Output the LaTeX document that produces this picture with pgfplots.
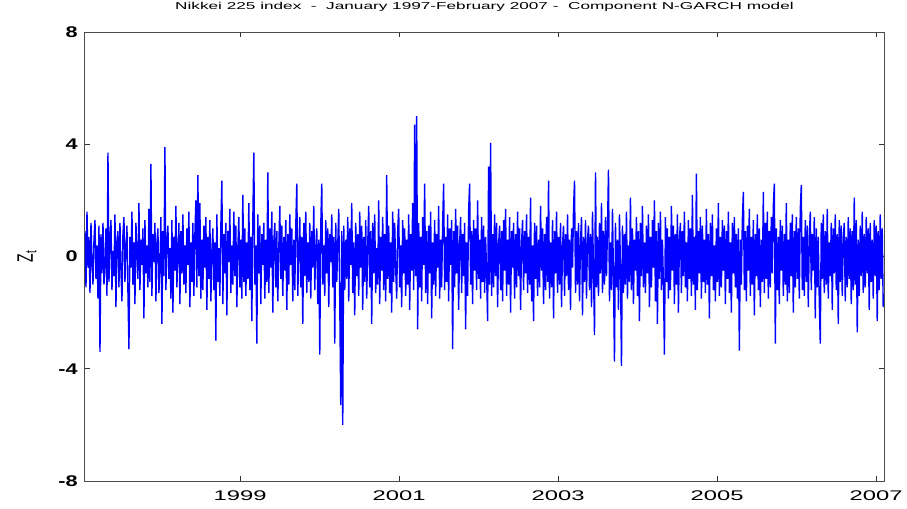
\documentclass[border=0pt]{standalone}
\usepackage{pgfplots}
\pgfplotsset{compat=1.18}
\usepackage{pgfplotstable}
\usepackage{fontspec}
\setmainfont{Liberation Sans}
% the reference is stretched sideways, so are its fonts
\newfontfamily\titlefont[FakeStretch=1.72]{Liberation Sans}
\newfontfamily\xtickfont[FakeStretch=1.7]{Liberation Sans}
\newfontfamily\ytickfont[FakeStretch=1.4]{Liberation Sans Bold}

% standardised residuals z_t (one value per ~4 trading days)
\pgfplotstableread[row sep=\\]{
z\\
0.9\\ -1.1\\ 1.6\\ -0.4\\ 0.7\\ -1.3\\ 1.2\\ -0.2\\ -1.0\\ 0.6\\ 1.3\\ -0.8\\ 0.4\\ -1.5\\ 1.1\\ -3.4\\ 0.8\\ -0.6\\ 1.2\\ -1.0\\
-0.3\\ 1.0\\ -1.4\\ 3.7\\ -0.9\\ 0.5\\ 1.3\\ -1.2\\ 0.2\\ -0.7\\ 1.5\\ -1.8\\ 0.6\\ 0.9\\ -1.1\\ 1.2\\ -0.5\\ -1.6\\ 0.8\\ 1.4\\
-0.9\\ 0.3\\ 1.1\\ -1.3\\ -3.3\\ 0.7\\ -0.4\\ 1.6\\ -1.0\\ 0.5\\ -1.7\\ 1.2\\ 0.1\\ -0.8\\ 1.9\\ -1.2\\ 0.6\\ -0.3\\ 1.0\\ -2.2\\
1.3\\ -0.6\\ 0.4\\ -1.1\\ 1.7\\ -0.9\\ 3.3\\ -1.4\\ 0.8\\ -0.2\\ 1.2\\ -1.6\\ 0.5\\ 1.0\\ -1.3\\ -0.4\\ 1.4\\ -2.4\\ 0.9\\ -0.7\\
3.9\\ -1.2\\ 0.6\\ 1.1\\ -0.8\\ 0.3\\ -1.5\\ 1.3\\ -2.0\\ 0.7\\ -0.5\\ 1.8\\ -1.1\\ 0.2\\ 1.2\\ -1.7\\ 0.9\\ -0.6\\ 1.5\\ -1.0\\
0.4\\ -1.3\\ 1.0\\ -0.3\\ 1.6\\ -1.8\\ 0.5\\ -0.9\\ 1.2\\ -1.4\\ 0.8\\ 2.0\\ -1.1\\ 2.9\\ -0.7\\ 1.9\\ -1.5\\ 0.6\\ -1.2\\ 1.1\\
-0.4\\ 1.4\\ -1.9\\ 0.7\\ -0.8\\ 1.3\\ -1.6\\ 0.2\\ 1.0\\ -1.2\\ 0.5\\ -3.0\\ 1.5\\ -0.9\\ 0.3\\ -1.4\\ 1.1\\ 2.7\\ -1.7\\ 0.8\\
-0.6\\ 1.2\\ -2.1\\ 0.9\\ -0.2\\ 1.7\\ -1.3\\ 0.4\\ -1.0\\ 1.6\\ -0.7\\ 1.1\\ -1.8\\ 0.3\\ 1.4\\ -1.1\\ 0.6\\ -1.5\\ 2.2\\ -0.9\\
1.0\\ -1.4\\ 0.5\\ -0.8\\ 1.9\\ -1.2\\ 0.7\\ -2.3\\ 1.3\\ 3.7\\ -1.0\\ 0.4\\ -3.1\\ 1.5\\ -0.6\\ 1.1\\ -1.7\\ 0.8\\ -0.3\\ 1.2\\
-1.5\\ 0.6\\ -0.9\\ 3.0\\ -1.3\\ 1.0\\ -0.4\\ 1.6\\ -2.0\\ 0.5\\ 1.2\\ -1.1\\ 0.9\\ -1.6\\ 0.3\\ 1.8\\ -0.8\\ 1.1\\ -1.4\\ 0.7\\
-0.5\\ 1.3\\ -1.9\\ 0.8\\ -1.0\\ 1.5\\ -0.3\\ 1.0\\ -1.6\\ 0.6\\ -1.2\\ 1.1\\ 2.6\\ -1.4\\ 0.2\\ 1.4\\ -1.1\\ 0.7\\ -2.4\\ 1.2\\
-0.7\\ 1.6\\ -1.3\\ 0.5\\ -0.9\\ 1.2\\ -1.5\\ 0.9\\ -0.4\\ 1.8\\ -1.2\\ 0.3\\ 1.0\\ -1.7\\ 0.6\\ -3.5\\ 1.1\\ 2.6\\ -1.0\\ 0.4\\
-1.4\\ 1.3\\ -0.6\\ 1.0\\ -1.8\\ 0.8\\ -0.2\\ 1.5\\ -1.1\\ 0.7\\ -3.1\\ 1.2\\ -0.9\\ 0.4\\ 1.7\\ -1.5\\ -5.3\\ 0.9\\ -6.0\\ 1.1\\
-1.2\\ 0.6\\ -0.8\\ 1.4\\ -1.6\\ 1.0\\ -0.3\\ 1.9\\ -1.3\\ 0.5\\ -2.1\\ 1.2\\ -0.7\\ 0.8\\ -1.4\\ 1.6\\ -0.4\\ 1.1\\ -1.9\\ 0.7\\
-0.9\\ 1.3\\ -1.5\\ 0.4\\ 1.8\\ -1.1\\ 0.9\\ -2.4\\ 1.2\\ -0.6\\ 1.5\\ -1.3\\ 0.3\\ -1.0\\ 2.0\\ -1.7\\ 0.7\\ -0.5\\ 1.4\\ -1.2\\
0.8\\ -1.6\\ 2.9\\ -0.8\\ 1.1\\ -1.3\\ 0.5\\ -2.0\\ 1.6\\ -0.9\\ 1.2\\ -0.4\\ -1.5\\ 0.9\\ 1.7\\ -1.1\\ 0.4\\ -1.8\\ 1.3\\ -0.6\\
1.0\\ -1.4\\ 0.6\\ -1.0\\ 1.5\\ -1.9\\ 0.8\\ -0.5\\ 1.9\\ -1.2\\ 4.7\\ -0.7\\ 5.0\\ -2.6\\ 1.2\\ -1.1\\ 0.7\\ -1.6\\ 1.4\\ -0.3\\
2.6\\ -1.3\\ 0.9\\ -1.7\\ 1.1\\ -0.6\\ 1.6\\ -2.2\\ 0.5\\ -1.0\\ 1.3\\ -1.4\\ 0.8\\ -0.4\\ 1.8\\ -1.5\\ 0.6\\ -1.1\\ 1.2\\ 2.6\\
-1.2\\ 0.7\\ -0.9\\ 1.5\\ -1.6\\ 1.0\\ -0.3\\ 1.3\\ -3.3\\ 0.9\\ -1.1\\ 1.7\\ -0.6\\ 1.1\\ -1.9\\ 0.4\\ 1.4\\ -1.3\\ 0.8\\ -0.7\\
1.2\\ -2.6\\ 0.5\\ -1.4\\ 1.6\\ 2.6\\ -1.0\\ 0.9\\ -1.7\\ 1.3\\ -0.5\\ 1.0\\ -1.2\\ 2.0\\ -0.8\\ 0.6\\ -1.5\\ 1.4\\ -0.9\\ 1.1\\
-1.3\\ 0.7\\ -0.6\\ -2.3\\ 3.2\\ -1.0\\ 4.05\\ -1.4\\ 0.8\\ -1.1\\ 1.5\\ -0.7\\ 1.2\\ -1.8\\ 0.4\\ 1.1\\ -1.2\\ 0.9\\ -1.6\\ 1.3\\
-0.5\\ 1.7\\ -1.4\\ 0.6\\ -1.0\\ 1.4\\ -2.0\\ 0.9\\ -0.4\\ 1.2\\ -1.5\\ 0.8\\ -1.1\\ 1.6\\ -0.7\\ 1.0\\ -1.9\\ 0.5\\ 1.3\\ -1.2\\
0.9\\ -0.6\\ 1.5\\ -1.3\\ 0.7\\ -1.0\\ 2.1\\ -1.6\\ 0.4\\ -2.3\\ 1.2\\ -0.8\\ 1.1\\ -1.4\\ 0.6\\ -1.1\\ 1.8\\ -0.5\\ 1.0\\ -1.7\\
0.8\\ -1.2\\ 1.4\\ -0.9\\ 2.7\\ -1.5\\ 0.5\\ -1.1\\ 1.3\\ -2.2\\ 0.9\\ -0.6\\ 1.6\\ -1.3\\ 0.7\\ -1.0\\ 1.2\\ -1.8\\ 0.4\\ 1.1\\
-1.4\\ 0.8\\ -0.7\\ 1.5\\ -1.2\\ 0.6\\ -1.9\\ 1.0\\ -0.4\\ 1.7\\ 2.7\\ -1.3\\ 0.9\\ -1.0\\ 1.2\\ -1.6\\ 0.5\\ 1.4\\ -2.1\\ 0.7\\
-0.9\\ 1.3\\ -1.5\\ 0.6\\ 1.1\\ -1.2\\ 0.8\\ -1.8\\ 1.6\\ -0.5\\ -2.8\\ 3.0\\ -1.1\\ 0.7\\ -1.4\\ 1.2\\ -0.6\\ 1.9\\ -1.3\\ 0.9\\
-1.0\\ 1.4\\ -0.7\\ 1.0\\ 3.1\\ -1.6\\ 0.5\\ -1.2\\ 1.7\\ -0.8\\ -3.75\\ 1.2\\ -1.1\\ 0.6\\ -1.9\\ 1.5\\ -0.4\\ -3.9\\ 1.1\\ -1.3\\
0.8\\ -1.0\\ 1.6\\ -1.5\\ 0.4\\ -0.9\\ 2.1\\ -1.2\\ 1.0\\ -1.7\\ 0.6\\ -0.5\\ 1.4\\ -1.4\\ 0.9\\ -2.3\\ 1.2\\ -0.7\\ 1.8\\ -1.1\\
0.5\\ -1.3\\ 1.1\\ -0.6\\ 1.5\\ -1.8\\ 0.7\\ -1.1\\ 1.3\\ -0.4\\ 2.0\\ -1.6\\ 0.9\\ -2.4\\ 1.2\\ -0.8\\ 1.6\\ -1.2\\ 0.6\\ -1.0\\
-3.5\\ 1.4\\ -0.9\\ 1.0\\ -1.5\\ 0.7\\ -1.2\\ 1.8\\ -0.5\\ 1.1\\ -1.7\\ 0.8\\ -1.0\\ 1.5\\ -2.0\\ 0.6\\ 1.2\\ -1.3\\ 0.9\\ -0.7\\
1.6\\ -1.1\\ 0.5\\ -1.6\\ 1.3\\ -0.8\\ 1.0\\ -1.4\\ 2.2\\ -1.0\\ 0.7\\ -1.9\\ 2.95\\ -1.2\\ 0.9\\ -0.6\\ 1.4\\ -1.5\\ 1.1\\ -0.9\\
0.6\\ -1.3\\ 1.7\\ -1.0\\ 0.8\\ -2.2\\ 1.2\\ -0.7\\ 1.5\\ -1.2\\ 0.4\\ -1.6\\ 1.0\\ -0.9\\ 1.9\\ -1.4\\ 0.7\\ -1.1\\ 1.3\\ -0.5\\
1.1\\ -1.7\\ 0.9\\ -0.8\\ 1.6\\ -1.3\\ 0.5\\ -2.0\\ 1.2\\ -0.6\\ 1.4\\ -1.1\\ 0.8\\ -1.5\\ 1.0\\ -3.35\\ 0.6\\ -1.0\\ 1.3\\ 2.3\\
-1.2\\ 0.9\\ -1.6\\ 1.1\\ -0.5\\ 1.7\\ -1.4\\ 0.7\\ -1.0\\ 1.3\\ -2.1\\ 0.8\\ -0.7\\ 1.5\\ -1.2\\ 1.0\\ -1.8\\ 0.6\\ -0.9\\ 2.3\\
-1.3\\ 1.2\\ -0.8\\ 1.6\\ -1.5\\ 0.9\\ -1.1\\ 1.4\\ -0.6\\ 1.8\\ 2.6\\ -3.1\\ 1.0\\ -1.2\\ 0.7\\ -1.7\\ 1.3\\ -0.5\\ 1.1\\ -1.4\\
0.8\\ -1.0\\ 1.9\\ -1.6\\ 0.6\\ -1.3\\ 1.2\\ -0.7\\ 1.5\\ -2.0\\ 0.9\\ -1.1\\ 1.4\\ -0.8\\ 1.0\\ -1.5\\ 1.7\\ 2.55\\ -1.2\\ 0.7\\
-1.4\\ 1.3\\ -0.9\\ 1.1\\ -1.8\\ 0.6\\ 1.6\\ -1.2\\ 0.8\\ -0.5\\ 1.4\\ -2.2\\ 1.0\\ -1.1\\ 0.7\\ -1.6\\ -3.1\\ 1.2\\ -0.8\\ 1.5\\
-1.3\\ 0.9\\ -1.0\\ 1.7\\ -1.5\\ 0.5\\ -0.7\\ 1.2\\ -1.9\\ 1.0\\ -0.6\\ 1.5\\ -1.2\\ 0.8\\ -2.4\\ 1.3\\ -0.9\\ 1.1\\ -1.4\\ 0.6\\
1.2\\ -1.6\\ 0.7\\ -1.1\\ 1.4\\ -0.8\\ 1.0\\ -1.7\\ 0.9\\ -1.2\\ 2.1\\ -1.0\\ 1.3\\ -2.7\\ 0.6\\ -1.4\\ 1.1\\ -0.7\\ 1.6\\ -1.3\\
0.8\\ -1.1\\ 1.4\\ -0.6\\ 1.0\\ -1.9\\ 1.2\\ -0.9\\ 0.6\\ -1.5\\ 1.3\\ -0.7\\ 1.1\\ -2.3\\ 0.9\\ -1.2\\ 1.5\\ -0.8\\ 1.0\\ -1.8\\
}\zdata

\begin{document}
\begin{tikzpicture}
% page = 907 x 508 px at 0.75pt per px
\path[use as bounding box] (-63.75pt,-20.25pt) rectangle (616.5pt,360.75pt);
\begin{axis}[
    at={(0pt,0pt)}, anchor=south west,
    scale only axis,
    width=599.25pt,
    height=336.75pt,
    xmin=1997.05, xmax=2007.1,
    ymin=-8, ymax=8,
    xtick={1999,2001,2003,2005,2007},
    xticklabels={1999,2001,2003,2005,2007},
    ytick={-8,-4,0,4,8},
    yticklabels={-8,-4,0,4,8},
    tick align=inside,
    major tick length=3.75pt,
    axis line style={draw=black!70, line width=0.75pt},
    every tick/.style={draw=black!80, line width=0.6pt},
    xticklabel style={font=\xtickfont\fontsize{10.5}{12}\selectfont, yshift=-3.5pt},
    yticklabel style={font=\ytickfont\fontsize{11.6}{13}\selectfont, xshift=-2pt},
    title={Nikkei 225 index\ \ -\ \ January 1997-February 2007 -\ \ Component N-GARCH model},
    title style={font=\titlefont\fontsize{7.5}{9}\selectfont, at={(axis description cs:0.5,1)}, anchor=base, yshift=10.9pt},
    ylabel={Z\textsubscript{t}},
    ylabel style={font=\fontsize{10.5}{12}\selectfont, at={(axis description cs:-0.0726,0.5)}, anchor=center, yscale=1.6},
]
\addplot[color=blue, line width=1.05pt, no markers]
    table[x expr=1997.05+\coordindex*0.012566, y=z] {\zdata};
\end{axis}
\end{tikzpicture}
\end{document}
